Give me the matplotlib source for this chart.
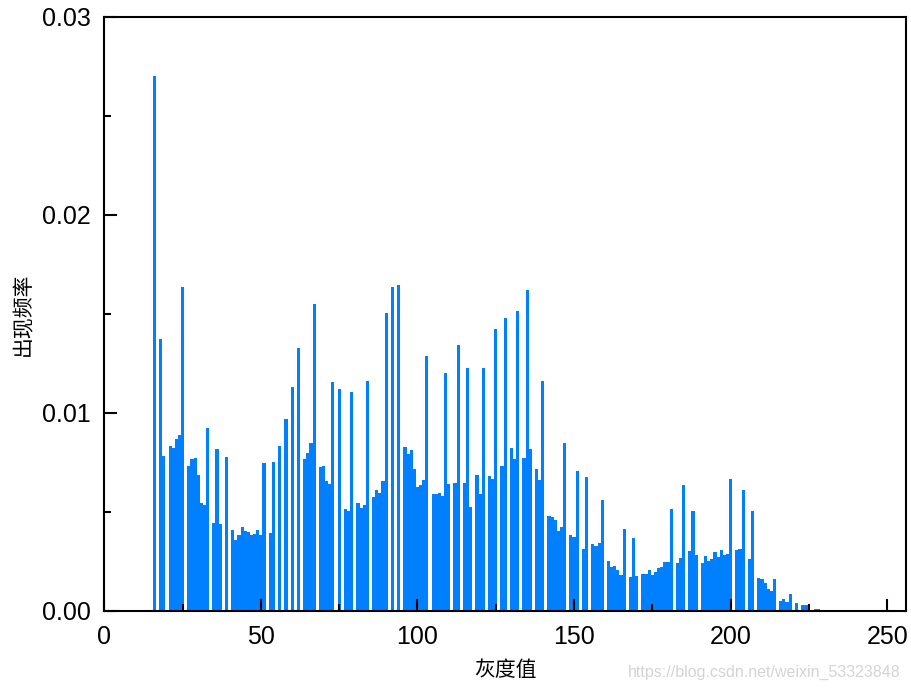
import numpy as np
import matplotlib
matplotlib.use('Agg')
import matplotlib.pyplot as plt
from matplotlib.ticker import MultipleLocator, FormatStrFormatter

plt.rcParams['font.family'] = ['Liberation Sans', 'Noto Sans CJK SC', 'DejaVu Sans']

# gray levels 16..230 and how often each occurs
gray_start = 16
freq = [
    0.0270, 0, 0.01375, 0.00781, 0, 0.00832, 0.00823, 0.0087, 0.00889, 0.01635,
    0, 0.00731, 0.00769, 0.00774, 0.00687, 0.00547, 0.00535, 0.00923, 0, 0.00443,
    0.00817, 0.00439, 0, 0.00779, 0, 0.00409, 0.00359, 0.00384, 0.00424, 0.00406,
    0.00397, 0.00382, 0.00389, 0.00411, 0.00384, 0.00747, 0, 0.00394, 0.00754, 0,
    0.00832, 0, 0.0097, 0, 0.0113, 0, 0.0133, 0, 0.00766, 0.0080,
    0.00847, 0.01549, 0, 0.00726, 0.00731, 0.00655, 0.0064, 0.01158, 0, 0.01121,
    0, 0.00514, 0.00503, 0.01108, 0, 0.00547, 0.00522, 0.00535, 0.01163, 0,
    0.00576, 0.00611, 0.00598, 0.00655, 0.01503, 0, 0.01635, 0, 0.01648, 0,
    0.00827, 0.00795, 0.00811, 0.00716, 0.00626, 0.00638, 0.0066, 0.01288, 0, 0.00593,
    0.00589, 0.00594, 0.00581, 0.0120, 0.00641, 0, 0.00645, 0.01343, 0, 0.00646,
    0.01226, 0.00527, 0, 0.00685, 0.00589, 0.01226, 0, 0.00684, 0.00667, 0.01424,
    0, 0.00732, 0.01478, 0, 0.00822, 0.00768, 0.01515, 0, 0.00773, 0.01621,
    0.00817, 0, 0.00717, 0.00662, 0.01162, 0, 0.00481, 0.00476, 0.00458, 0.00404,
    0.00424, 0.00847, 0, 0.00382, 0.00375, 0.00707, 0, 0.00313, 0.00675, 0,
    0.0034, 0.0033, 0.00343, 0.0056, 0, 0.00253, 0.00221, 0.00227, 0.00207, 0.00182,
    0.00414, 0, 0.00172, 0.00367, 0.00178, 0, 0.00189, 0.00185, 0.00207, 0.00182,
    0.00197, 0.00215, 0.00224, 0.00249, 0.00247, 0.00517, 0, 0.00241, 0.0027, 0.00636,
    0, 0.00303, 0.00505, 0.00281, 0, 0.00242, 0.00278, 0.00254, 0.00261, 0.003,
    0.00273, 0.00306, 0.00285, 0.00288, 0.00667, 0, 0.00306, 0.00315, 0.0061, 0,
    0.00264, 0.00505, 0, 0.00167, 0.00162, 0.00141, 0.00111, 0.00101, 0.00162, 0,
    0.0005, 0.0006, 0.00045, 0.00084, 0, 0.0004, 0, 0.00029, 0.00032, 0.0003,
    0, 0.0001, 0.00008, 0, 0.00006,
]
gray = np.arange(gray_start, gray_start + len(freq))

fig = plt.figure(figsize=(9.12, 6.9), dpi=100)
ax = fig.add_axes([0.1144, 0.1145, 0.879, 0.861])

ax.bar(gray, freq, width=1.0, color='#0080ff', linewidth=0)

ax.set_xlim(0, 256)
ax.set_ylim(0, 0.03)

ax.xaxis.set_major_locator(MultipleLocator(50))
ax.xaxis.set_minor_locator(MultipleLocator(25))
ax.yaxis.set_major_locator(MultipleLocator(0.01))
ax.yaxis.set_minor_locator(MultipleLocator(0.005))
ax.yaxis.set_major_formatter(FormatStrFormatter('%.2f'))

ax.tick_params(which='both', direction='in', top=False, right=False,
               width=1.5, labelsize=18)
ax.tick_params(which='major', length=9, pad=10)
ax.tick_params(which='minor', length=5)
for sp in ax.spines.values():
    sp.set_linewidth(1.5)

ax.set_xlabel('灰度值', fontsize=15, family=['Noto Sans CJK SC'], labelpad=7)
ax.set_ylabel('出现频率', fontsize=15, family=['Noto Sans CJK SC'], labelpad=5)

# blog watermark in the lower right corner
fig.text(0.988, 0.026, 'https://blog.csdn.net/weixin_53323848', ha='right',
         va='center', fontsize=11.5, color='#d4d4d4')

fig.savefig('out.png', dpi=100)
